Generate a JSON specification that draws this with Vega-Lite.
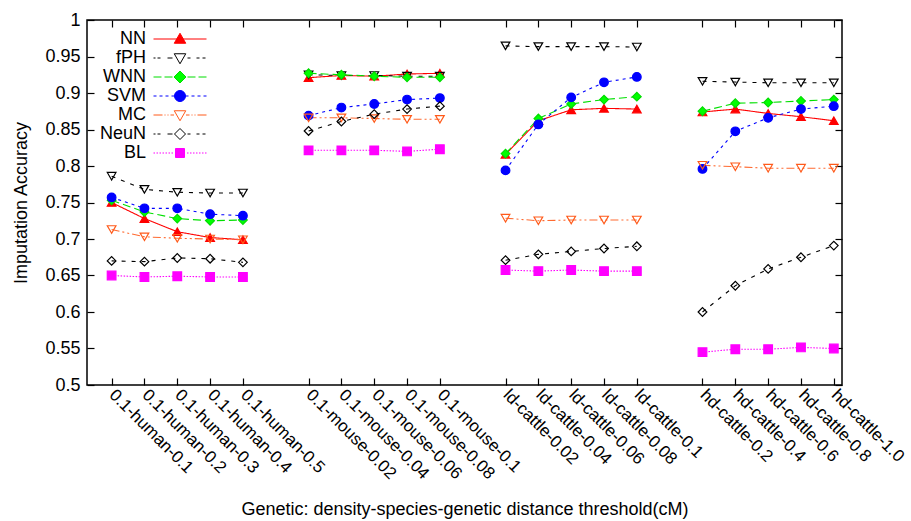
{
  "$schema": "https://vega.github.io/schema/vega-lite/v6.json",
  "width": 755,
  "height": 365,
  "autosize": {"type": "none"},
  "padding": {"left": 87, "top": 20, "right": 69, "bottom": 136},
  "background": "white",
  "config": {
    "font": "Liberation Sans",
    "view": {"stroke": "black", "strokeWidth": 1.5},
    "axis": {"grid": false, "domain": false, "tickColor": "black", "tickWidth": 1.2, "labelColor": "black", "labelFontSize": 18, "titleFontSize": 18, "titleFontWeight": "normal", "titleColor": "black", "labelFont": "Liberation Sans", "titleFont": "Liberation Sans"}
  },
  "data": {
    "values": [
      {"label": "0.1-human-0.1", "group": "human", "NN": 0.750, "fPH": 0.786, "WNN": 0.753, "SVM": 0.757, "MC": 0.713, "NeuN": 0.670, "BL": 0.650},
      {"label": "0.1-human-0.2", "group": "human", "NN": 0.728, "fPH": 0.768, "WNN": 0.737, "SVM": 0.742, "MC": 0.703, "NeuN": 0.669, "BL": 0.648},
      {"label": "0.1-human-0.3", "group": "human", "NN": 0.710, "fPH": 0.764, "WNN": 0.728, "SVM": 0.742, "MC": 0.701, "NeuN": 0.674, "BL": 0.649},
      {"label": "0.1-human-0.4", "group": "human", "NN": 0.702, "fPH": 0.763, "WNN": 0.725, "SVM": 0.734, "MC": 0.700, "NeuN": 0.673, "BL": 0.648},
      {"label": "0.1-human-0.5", "group": "human", "NN": 0.699, "fPH": 0.763, "WNN": 0.726, "SVM": 0.732, "MC": 0.699, "NeuN": 0.668, "BL": 0.648},
      {"label": "0.1-mouse-0.02", "group": "mouse", "NN": 0.921, "fPH": 0.925, "WNN": 0.927, "SVM": 0.869, "MC": 0.866, "NeuN": 0.848, "BL": 0.8215},
      {"label": "0.1-mouse-0.04", "group": "mouse", "NN": 0.924, "fPH": 0.924, "WNN": 0.925, "SVM": 0.880, "MC": 0.866, "NeuN": 0.861, "BL": 0.8215},
      {"label": "0.1-mouse-0.06", "group": "mouse", "NN": 0.923, "fPH": 0.924, "WNN": 0.923, "SVM": 0.885, "MC": 0.865, "NeuN": 0.871, "BL": 0.8215},
      {"label": "0.1-mouse-0.08", "group": "mouse", "NN": 0.926, "fPH": 0.923, "WNN": 0.9215, "SVM": 0.891, "MC": 0.864, "NeuN": 0.878, "BL": 0.820},
      {"label": "0.1-mouse-0.1", "group": "mouse", "NN": 0.927, "fPH": 0.923, "WNN": 0.9215, "SVM": 0.893, "MC": 0.864, "NeuN": 0.882, "BL": 0.823},
      {"label": "ld-cattle-0.02", "group": "ld", "NN": 0.816, "fPH": 0.9645, "WNN": 0.817, "SVM": 0.794, "MC": 0.7285, "NeuN": 0.671, "BL": 0.6575},
      {"label": "ld-cattle-0.04", "group": "ld", "NN": 0.862, "fPH": 0.9635, "WNN": 0.865, "SVM": 0.857, "MC": 0.725, "NeuN": 0.679, "BL": 0.656},
      {"label": "ld-cattle-0.06", "group": "ld", "NN": 0.877, "fPH": 0.9635, "WNN": 0.885, "SVM": 0.894, "MC": 0.726, "NeuN": 0.683, "BL": 0.6575},
      {"label": "ld-cattle-0.08", "group": "ld", "NN": 0.879, "fPH": 0.9635, "WNN": 0.891, "SVM": 0.9146, "MC": 0.726, "NeuN": 0.687, "BL": 0.656},
      {"label": "ld-cattle-0.1", "group": "ld", "NN": 0.878, "fPH": 0.963, "WNN": 0.895, "SVM": 0.922, "MC": 0.726, "NeuN": 0.690, "BL": 0.656},
      {"label": "hd-cattle-0.2", "group": "hd", "NN": 0.874, "fPH": 0.916, "WNN": 0.875, "SVM": 0.796, "MC": 0.801, "NeuN": 0.600, "BL": 0.545},
      {"label": "hd-cattle-0.4", "group": "hd", "NN": 0.878, "fPH": 0.915, "WNN": 0.886, "SVM": 0.8475, "MC": 0.799, "NeuN": 0.636, "BL": 0.549},
      {"label": "hd-cattle-0.6", "group": "hd", "NN": 0.872, "fPH": 0.914, "WNN": 0.887, "SVM": 0.866, "MC": 0.797, "NeuN": 0.659, "BL": 0.549},
      {"label": "hd-cattle-0.8", "group": "hd", "NN": 0.8675, "fPH": 0.914, "WNN": 0.889, "SVM": 0.878, "MC": 0.797, "NeuN": 0.675, "BL": 0.5515},
      {"label": "hd-cattle-1.0", "group": "hd", "NN": 0.862, "fPH": 0.914, "WNN": 0.891, "SVM": 0.882, "MC": 0.797, "NeuN": 0.691, "BL": 0.550}
    ]
  },
  "transform": [{"fold": ["NN", "fPH", "WNN", "SVM", "MC", "NeuN", "BL"], "as": ["method", "value"]}],
  "layer": [
    {
      "mark": {"type": "line", "strokeWidth": 1.1},
      "encoding": {
        "x": {"field": "label", "type": "nominal", "sort": null,
          "scale": {"type": "point", "padding": 0.5, "align": 0.75, "domain": ["0.1-human-0.1","0.1-human-0.2","0.1-human-0.3","0.1-human-0.4","0.1-human-0.5"," gap1","0.1-mouse-0.02","0.1-mouse-0.04","0.1-mouse-0.06","0.1-mouse-0.08","0.1-mouse-0.1"," gap2","ld-cattle-0.02","ld-cattle-0.04","ld-cattle-0.06","ld-cattle-0.08","ld-cattle-0.1"," gap3","hd-cattle-0.2","hd-cattle-0.4","hd-cattle-0.6","hd-cattle-0.8","hd-cattle-1.0"]},
          "axis": {"orient": "bottom", "title": "Genetic: density-species-genetic distance threshold(cM)", "titleY": 129, "titleBaseline": "alphabetic",
            "values": ["0.1-human-0.1","0.1-human-0.2","0.1-human-0.3","0.1-human-0.4","0.1-human-0.5","0.1-mouse-0.02","0.1-mouse-0.04","0.1-mouse-0.06","0.1-mouse-0.08","0.1-mouse-0.1","ld-cattle-0.02","ld-cattle-0.04","ld-cattle-0.06","ld-cattle-0.08","ld-cattle-0.1","hd-cattle-0.2","hd-cattle-0.4","hd-cattle-0.6","hd-cattle-0.8","hd-cattle-1.0"],
            "labelAngle": 45, "labelAlign": "left", "labelBaseline": "middle", "labelFontSize": 17, "tickSize": -7, "labelPadding": 14}},
        "y": {"field": "value", "type": "quantitative", "scale": {"domain": [0.5, 1], "nice": false, "zero": false},
          "axis": {"orient": "left", "title": "Imputation Accuracy", "titleX": -61, "titleBaseline": "alphabetic",
            "values": [0.5,0.55,0.6,0.65,0.7,0.75,0.8,0.85,0.9,0.95,1], "format": "~g", "tickSize": -7, "labelPadding": 14}},
        "detail": {"field": "group"},
        "stroke": {"field": "method", "type": "nominal", "legend": null,
          "scale": {"domain": ["NN","fPH","WNN","SVM","MC","NeuN","BL"], "range": ["#ff0000","#000000","#00e000","#0000ff","#ff6a30","#000000","#ff00ff"]}},
        "strokeDash": {"field": "method", "type": "nominal", "legend": null,
          "scale": {"domain": ["NN","fPH","WNN","SVM","MC","NeuN","BL"], "range": [[1,0],[4,6],[8,4],[3,4],[8,3,2,3,2,3],[4,6],[1.5,1.5]]}}
      }
    },
    {
      "mark": {"type": "point", "size": 75, "strokeWidth": 1.2, "opacity": 1},
      "encoding": {
        "x": {"field": "label", "type": "nominal", "sort": null,
          "axis": {"orient": "top", "title": null, "labels": false, "tickSize": -7,
            "values": ["0.1-human-0.1","0.1-human-0.2","0.1-human-0.3","0.1-human-0.4","0.1-human-0.5","0.1-mouse-0.02","0.1-mouse-0.04","0.1-mouse-0.06","0.1-mouse-0.08","0.1-mouse-0.1","ld-cattle-0.02","ld-cattle-0.04","ld-cattle-0.06","ld-cattle-0.08","ld-cattle-0.1","hd-cattle-0.2","hd-cattle-0.4","hd-cattle-0.6","hd-cattle-0.8","hd-cattle-1.0"]}},
        "y": {"field": "value", "type": "quantitative",
          "axis": {"orient": "right", "title": null, "labels": false, "tickSize": -7, "values": [0.5,0.55,0.6,0.65,0.7,0.75,0.8,0.85,0.9,0.95,1]}},
        "stroke": {"field": "method", "type": "nominal", "legend": null,
          "scale": {"domain": ["NN","fPH","WNN","SVM","MC","NeuN","BL"], "range": ["#ff0000","#000000","#00dd00","#0000ff","#ff5a1a","#000000","#ff00ff"]}},
        "fill": {"field": "method", "type": "nominal", "legend": null,
          "scale": {"domain": ["NN","fPH","WNN","SVM","MC","NeuN","BL"], "range": ["#ff0000","transparent","#00ff00","#0000ff","transparent","transparent","#ff00ff"]}},
        "shape": {"field": "method", "type": "nominal", "legend": null,
          "scale": {"domain": ["NN","fPH","WNN","SVM","MC","NeuN","BL"], "range": ["triangle-up","triangle-down","diamond","circle","triangle-down","diamond","square"]}}
      }
    },
    {
      "transform": [{"filter": "false"}],
      "mark": {"type": "point", "strokeWidth": 1, "opacity": 1},
      "encoding": {
        "x": {"field": "label", "type": "nominal", "axis": null},
        "y": {"field": "value", "type": "quantitative", "axis": null},
        "stroke": {"field": "method", "type": "nominal",
          "scale": {"domain": ["NN","fPH","WNN","SVM","MC","NeuN","BL"], "range": ["#ff0000","#000000","#00dd00","#0000ff","#ff5a1a","#000000","#ff00ff"]},
          "legend": {"orient": "none", "legendX": 84, "legendY": 10, "title": null, "labelFontSize": 18, "labelFont": "Liberation Sans", "labelColor": "black", "labelAlign": "right", "labelOffset": -43, "rowPadding": 1, "padding": 0, "symbolStrokeWidth": 1, "symbolSize": 100, "symbolOpacity": 1}},
        "fill": {"field": "method", "type": "nominal",
          "scale": {"domain": ["NN","fPH","WNN","SVM","MC","NeuN","BL"], "range": ["#ff0000","transparent","#00ff00","#0000ff","transparent","transparent","#ff00ff"]},
          "legend": {"orient": "none", "legendX": 84, "legendY": 10, "title": null, "labelFontSize": 18, "labelAlign": "right", "labelOffset": -43, "rowPadding": 1, "padding": 0, "symbolStrokeWidth": 1, "symbolSize": 100, "symbolOpacity": 1}},
        "shape": {"field": "method", "type": "nominal",
          "scale": {"domain": ["NN","fPH","WNN","SVM","MC","NeuN","BL"], "range": [
            "M-5.3,0H5.3M0,-1.15L1.15,0.85L-1.15,0.85Z",
            "M-5.3,0H-4.9M-4.5,0H-3.9M-2.5,0H-1.5M1.5,0H2.1M3.3,0H3.9M4.5,0H5.1M-1.15,-0.85L1.15,-0.85L0,1.15Z",
            "M-5.3,0H-3.7M-3.1,0H-1.5M1.5,0H3.1M3.7,0H5.3M0,-1.2L1.2,0L0,1.2L-1.2,0Z",
            "M-5.3,0H-4.7M-4.1,0H-3.5M-2.9,0H-2.3M-1.7,0H-1.1M1.1,0H1.7M2.3,0H2.9M3.5,0H4.1M4.7,0H5.3M1.1,0A1.1,1.1,0,1,1,-1.1,0A1.1,1.1,0,1,1,1.1,0Z",
            "M-5.3,0H-3.5M-3.1,0H-2.9M-2.5,0H-2.3M-1.9,0H-1.2M1.2,0H1.9M2.3,0H2.5M2.9,0H3.1M3.5,0H5.3M-1.15,-0.85L1.15,-0.85L0,1.15Z",
            "M-5.3,0H-4.9M-4.5,0H-3.9M-2.5,0H-1.5M1.5,0H2.1M3.3,0H3.9M4.5,0H5.1M0,-1.1L1.1,0L0,1.1L-1.1,0Z",
            "M-5.3,0H-5M-4.7,0H-4.4M-4.1,0H-3.8M-3.5,0H-3.2M-2.9,0H-2.6M-2.3,0H-2M-1.7,0H-1.4M1.4,0H1.7M2,0H2.3M2.6,0H2.9M3.2,0H3.5M3.8,0H4.1M4.4,0H4.7M5,0H5.3M-0.9,-0.9H0.9V0.9H-0.9Z"
          ]},
          "legend": {"orient": "none", "legendX": 84, "legendY": 10, "title": null, "labelFontSize": 18, "labelAlign": "right", "labelOffset": -43, "rowPadding": 1, "padding": 0, "symbolStrokeWidth": 1, "symbolSize": 100, "symbolOpacity": 1}}
      }
    }
  ],
  "resolve": {"scale": {"stroke": "independent", "fill": "independent", "shape": "independent", "strokeDash": "independent"}}
}
